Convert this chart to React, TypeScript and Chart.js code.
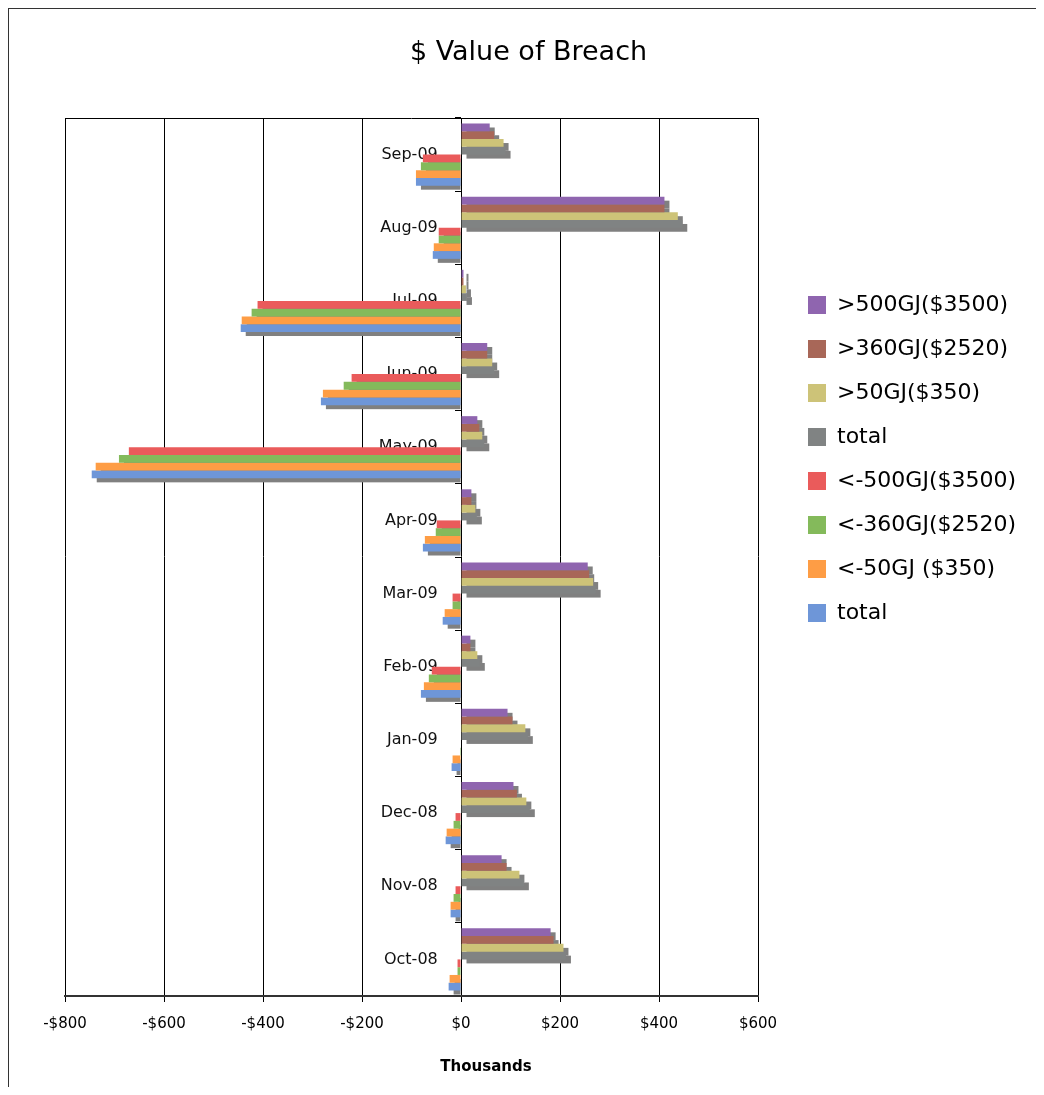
import React, { useEffect, useRef } from 'react';
import { Chart, registerables } from 'chart.js';

Chart.register(...registerables);

// ---- data ----
const categories = ['Sep-09', 'Aug-09', 'Jul-09', 'Jun-09', 'May-09', 'Apr-09', 'Mar-09', 'Feb-09', 'Jan-09', 'Dec-08', 'Nov-08', 'Oct-08'];

const seriesLabels = ['>500GJ($3500)', '>360GJ($2520)', '>50GJ($350)', 'total', '<-500GJ($3500)', '<-360GJ($2520)', '<-50GJ ($350)', 'total'];

const over500 = [58, 411, 5, 53, 33, 21, 256, 19, 94, 106, 82, 181];
const over360 = [67, 411, 5, 53, 37, 21, 259, 19, 104, 113, 92, 187];
const over50 = [86, 438, 10, 63, 43, 29, 267, 33, 130, 132, 118, 207];
const totalOver = [90, 447, 12, 67, 47, 32, 272, 38, 135, 139, 127, 212];
const under500 = [-77, -45, -411, -221, -671, -49, -17, -59, 0, -11, -11, -7];
const under360 = [-81, -45, -423, -237, -691, -51, -17, -65, -2, -15, -15, -7];
const under50 = [-91, -55, -443, -279, -738, -73, -33, -75, -17, -29, -21, -23];
const totalUnder = [-91, -57, -445, -283, -746, -77, -37, -81, -19, -31, -21, -25];

const seriesValues = [over500, over360, over50, totalOver, under500, under360, under50, totalUnder];

const seriesColors = ['#8F65AF', '#A86758', '#CDC378', '#808383', '#EA5B5B', '#84BA5B', '#FE9D45', '#6E96D8'];

const xTicks = { min: -800, max: 600, step: 200 };
const xAxisTitle = 'Thousands';

// ---- styling constants ----
const SHADOW_COLOR = '#808080';
const SHADOW_DX = 5;
const SHADOW_DY = 4;
const LABEL_AXIS_X = -47; // where the category labels end (x value)
const X_TITLE_POS = { x: 477, y: 1058 };

const fmtMoney = (v: number) => (v < 0 ? '-$' : '$') + Math.abs(v);

const barShadowPlugin = {
  id: 'barShadow',
  beforeDatasetsDraw(chart: any) {
    const ctx = chart.ctx;
    const a = chart.chartArea;
    ctx.save();
    ctx.beginPath();
    ctx.rect(a.left, a.top, a.right - a.left, a.bottom - a.top);
    ctx.clip();
    ctx.fillStyle = SHADOW_COLOR;
    chart.data.datasets.forEach((_ds: any, i: number) => {
      const meta = chart.getDatasetMeta(i);
      if (meta.hidden) return;
      meta.data.forEach((bar: any) => {
        const { x, y, base, height } = bar.getProps(['x', 'y', 'base', 'height'], true);
        const left = Math.min(x, base);
        const right = Math.max(x, base);
        if (right - left < 0.5) return;
        const positive = x > base;
        const w = positive ? right - left : right - left - SHADOW_DX;
        if (w <= 0) return;
        ctx.fillRect(left + SHADOW_DX, y - height / 2 + SHADOW_DY, w, height);
      });
    });
    ctx.restore();
  },
  afterDraw(chart: any) {
    const ctx = chart.ctx;
    const a = chart.chartArea;
    ctx.save();
    ctx.strokeStyle = '#000';
    ctx.lineWidth = 1;
    ctx.beginPath();
    ctx.moveTo(a.left, Math.round(a.top) + 0.5);
    ctx.lineTo(a.right, Math.round(a.top) + 0.5);
    ctx.stroke();
    ctx.fillStyle = '#000';
    ctx.font = "bold 15px 'DejaVu Sans', Verdana, sans-serif";
    ctx.textAlign = 'center';
    ctx.textBaseline = 'middle';
    ctx.fillText(xAxisTitle, X_TITLE_POS.x, X_TITLE_POS.y);
    ctx.restore();
  },
};

export default function App() {
  const canvasRef = useRef<HTMLCanvasElement>(null);

  useEffect(() => {
    const canvas = canvasRef.current;
    if (!canvas) return;
    Chart.defaults.font.family = "'DejaVu Sans', Verdana, sans-serif";
    Chart.defaults.color = '#000';

    const chart = new Chart(canvas, {
      type: 'bar',
      data: {
        labels: categories,
        datasets: seriesLabels.map((label, i) => ({
          label,
          data: seriesValues[i],
          backgroundColor: seriesColors[i],
          borderWidth: 0,
          xAxisID: 'x',
          yAxisID: 'y',
          categoryPercentage: 0.85,
          barPercentage: 1.0,
        })),
      },
      options: {
        indexAxis: 'y',
        responsive: false,
        animation: false,
        devicePixelRatio: 1,
        layout: { padding: { left: 26, right: 14, top: 0, bottom: 54 } },
        plugins: {
          title: {
            display: true,
            text: '$ Value of Breach',
            color: '#000',
            font: { size: 27, weight: 'normal' },
            padding: { top: 27.8, bottom: 48.8 },
          },
          legend: {
            display: true,
            position: 'right',
            align: 'start',
            maxWidth: 236,
            title: { display: true, text: ' ', font: { size: 12 }, padding: { top: 248.6, bottom: 0 } },
            labels: {
              boxWidth: 18,
              boxHeight: 18,
              padding: 22,
              color: '#000',
              font: { size: 22 },
            },
          },
          tooltip: { enabled: false },
        },
        scales: {
          x: {
            type: 'linear',
            axis: 'x',
            position: 'bottom',
            min: xTicks.min,
            max: xTicks.max,
            ticks: {
              stepSize: xTicks.step,
              callback: (v: any) => fmtMoney(Number(v)),
              font: { size: 15 },
              color: '#000',
              padding: 13,
              maxRotation: 0,
              autoSkip: false,
            },
            grid: { color: '#000', lineWidth: 1, tickLength: 6, drawTicks: true, drawOnChartArea: true },
            border: { display: true, color: '#333', width: 2 },
            afterFit: (s: any) => { s.height = 37; },
          },
          y: {
            type: 'category',
            axis: 'y',
            position: { x: 0 },
            offset: true,
            ticks: { display: false },
            grid: { display: true, offset: true, drawOnChartArea: false, drawTicks: true, tickLength: 6, color: '#000' },
            border: { display: false },
          },
          yLab: {
            type: 'category',
            axis: 'y',
            position: { x: LABEL_AXIS_X },
            offset: true,
            ticks: { display: true, font: { size: 16 }, color: '#111', padding: 0 },
            grid: { display: false, drawTicks: false },
            border: { display: false },
          },
          yL: {
            type: 'linear',
            axis: 'y',
            position: 'left',
            ticks: { display: false },
            grid: { display: false, drawTicks: false },
            border: { display: false },
            afterFit: (s: any) => { s.width = 30; },
          },
          yGap: {
            type: 'linear',
            axis: 'y',
            position: 'right',
            ticks: { display: false },
            grid: { display: false, drawTicks: false },
            border: { display: false },
            afterFit: (s: any) => { s.width = 28; },
          },
        },
      } as any,
      plugins: [barShadowPlugin],
    });

    return () => chart.destroy();
  }, []);

  return (
    <div
      style={{
        width: 1027,
        height: 1078,
        borderLeft: '1px solid #333',
        borderTop: '1px solid #333',
      }}
    >
      <canvas ref={canvasRef} width={1027} height={1078} style={{ display: 'block' }} />
    </div>
  );
}
